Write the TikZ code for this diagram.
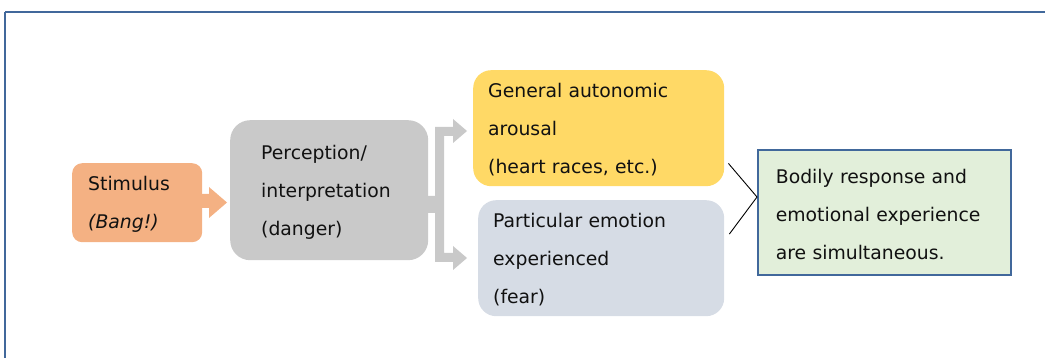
\documentclass[tikz,border=0pt]{standalone}
\usepackage{fontspec}
\setmainfont{DejaVu Sans}
\usetikzlibrary{calc}
\definecolor{frameblue}{HTML}{41689B}
\definecolor{stimfill}{HTML}{F4B183}
\definecolor{percfill}{HTML}{C9C9C9}
\definecolor{genfill}{HTML}{FFD966}
\definecolor{partfill}{HTML}{D6DCE5}
\definecolor{resfill}{HTML}{E2EFDA}
\definecolor{ink}{HTML}{111111}
\tikzset{
  box/.style={anchor=north west, align=left, inner ysep=0pt, text=ink,
    font={\fontsize{18.8}{38}\selectfont},
    execute at begin node={\rule{0pt}{18pt}}},
  stimbox/.style={box, fill=stimfill, rounded corners=10pt, inner xsep=16pt},
  percbox/.style={box, fill=percfill, rounded corners=20pt, inner xsep=31pt},
  softbox/.style={box, rounded corners=18pt, inner xsep=15pt},
  resbox/.style={box, fill=resfill, draw=frameblue, line width=1.7pt, inner xsep=18pt},
  link/.style={draw=black, line width=0.9pt}
}
\begin{document}
\begin{tikzpicture}[x=1pt, y=-1pt]
\useasboundingbox (0,0) rectangle (1045,358);

% outer frame (top and left edges)
\draw[frameblue, line width=2pt] (5,12) -- (1045,12);
\draw[frameblue, line width=1.3pt] (5,12) -- (5,358);

% boxes
\node[stimbox, minimum width=130pt, minimum height=79pt, text width=98pt]
  (stim) at (72,163) {Stimulus\\\textit{(Bang!)}};
\node[percbox, minimum width=198pt, minimum height=140pt, text width=136pt]
  (perc) at (230,120) {Perception/\\interpretation\\(danger)};
\node[softbox, fill=genfill, minimum width=251pt, minimum height=116pt, text width=221pt]
  (gen) at (473,70) {General autonomic\\arousal\\(heart races, etc.)};
\node[softbox, fill=partfill, minimum width=246pt, minimum height=116pt, text width=216pt]
  (part) at (478,200) {Particular emotion\\experienced\\(fear)};
\node[resbox, minimum width=253pt, minimum height=125pt, text width=217pt]
  (res) at (757,149) {Bodily response and\\emotional experience\\are simultaneous.};

% block arrow: stimulus -> perception
\fill[stimfill] (202,194) -- (209,194) -- (209,187) -- (227,202.5)
  -- (209,218) -- (209,208) -- (202,208) -- cycle;

% bracket arrow: perception -> both responses
\fill[percfill] (427,196) -- (435,196) -- (435,127) -- (453,127) -- (453,119)
  -- (467,131) -- (453,143) -- (453,136) -- (444,136) -- (444,253)
  -- (453,253) -- (453,246) -- (467,258) -- (453,270) -- (453,262)
  -- (435,262) -- (435,213) -- (427,213) -- cycle;

% converging lines into the result box
\coordinate (v) at (res.west |- 0,197);
\coordinate (ga) at ($(gen.south east)+(4,-23)$);
\coordinate (pa) at ($(part.north east)+(5,34)$);
\draw[link] (ga) -- (v) -- (pa);
\end{tikzpicture}
\end{document}
